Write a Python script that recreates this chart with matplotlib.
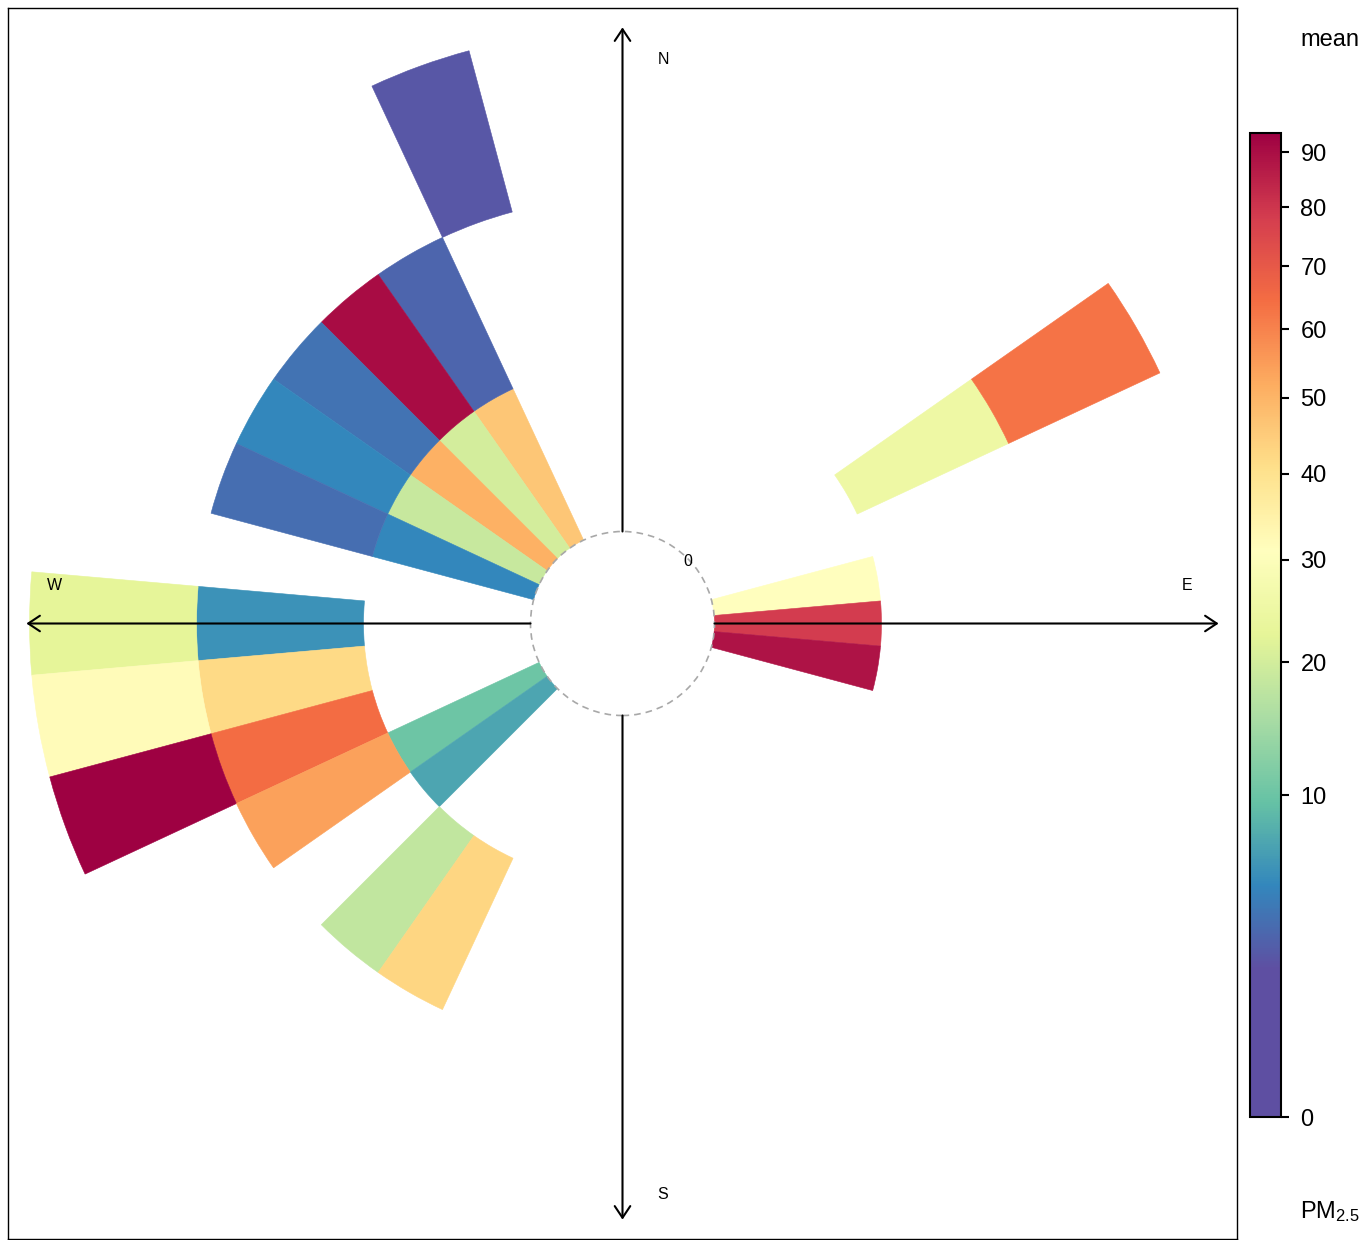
import numpy as np
import matplotlib
matplotlib.use("Agg")
import matplotlib.pyplot as plt
from matplotlib.patches import Wedge, Circle
from matplotlib.colors import LinearSegmentedColormap, PowerNorm
import matplotlib.colorbar as mcolorbar

plt.rcParams['font.family'] = ['Liberation Sans', 'DejaVu Sans']
plt.rcParams['mathtext.fontset'] = 'custom'
plt.rcParams['mathtext.rm'] = 'Liberation Sans'

# ---- data: wind direction bin (deg), wind-speed bin index, mean PM2.5 ----
direction = [340, 330, 330, 320, 320, 310, 310, 300, 300, 290, 290,
             270, 270, 260, 260, 250, 250, 240, 240, 230, 220, 210,
             60, 60, 80, 90, 100]
ws_bin = [3, 1, 2, 1, 2, 1, 2, 1, 2, 1, 2,
          2, 3, 2, 3, 2, 3, 1, 2, 1, 2, 2,
          2, 3, 1, 1, 1]
pm25_mean = [2.5, 46.2, 3.2, 20.2, 90.4, 50.8, 4.0, 18.7, 5.2, 5.2, 3.7,
             5.9, 22.5, 41.8, 31.9, 64.5, 93.4, 10.1, 54.3, 7.2, 18.0, 42.9,
             24.9, 63.2, 30.9, 78.4, 88.9]
cbar_ticks = [0, 10, 20, 30, 40, 50, 60, 70, 80, 90]
compass = {"N": (0.245, 3.38), "E": (3.38, 0.23), "S": (0.24, -3.42), "W": (-3.40, 0.23)}

dir_width = 10.0
ws_width = 1.0
offset = 0.551          # radius of the central hole (ws units)
vmax = 93.6

# colour map: Spectral_r, flat purple at the low end
base = plt.get_cmap('Spectral_r')
anchors = [(0.0, base(0.0))] + [(0.15 + 0.85 * k / 10, base(k / 10)) for k in range(11)]
cmap = LinearSegmentedColormap.from_list('pm', anchors, N=512)
norm = PowerNorm(gamma=0.5, vmin=0, vmax=vmax)

fig = plt.figure(figsize=(13.68, 12.4), dpi=100)
ax = fig.add_axes([8 / 1368, 1 / 1240, 1229 / 1368, 1231 / 1240])
ax.set_xlim(-3.68, 3.68)
ax.set_ylim(-3.686, 3.686)
ax.set_xticks([])
ax.set_yticks([])
for s in ax.spines.values():
    s.set_linewidth(1.0)
    s.set_color('black')

for d, b, v in zip(direction, ws_bin, pm25_mean):
    r_out = offset + b * ws_width
    th1 = 90 - (d + dir_width / 2)
    th2 = 90 - (d - dir_width / 2)
    c = cmap(norm(v))
    ax.add_patch(Wedge((0, 0), r_out, th1, th2, width=ws_width,
                       facecolor=c, edgecolor=c, linewidth=0.4, zorder=2))

ax.add_patch(Circle((0, 0), offset, fill=False, edgecolor='#A8A8A8',
                    linestyle=(0, (4, 3)), linewidth=1.2, zorder=3))
ax.text(0.39, 0.37, "0", fontsize=11.5, ha='center', va='center', zorder=4)

r_end = 3.57
for dx, dy in [(0, 1), (1, 0), (0, -1), (-1, 0)]:
    ax.annotate('', xy=(dx * r_end, dy * r_end), xytext=(dx * offset, dy * offset),
                arrowprops=dict(arrowstyle='->,head_length=0.6,head_width=0.4',
                                lw=1.5, color='black', mutation_scale=14,
                                shrinkA=0, shrinkB=0), zorder=4)
for lab, (x, y) in compass.items():
    ax.text(x, y, lab, fontsize=11.5, ha='center', va='center', zorder=4)

cax = fig.add_axes([1250 / 1368, (1240 - 1117) / 1240, 31 / 1368, 984 / 1240])
cb = mcolorbar.ColorbarBase(cax, cmap=cmap, norm=norm, orientation='vertical')
cb.set_ticks(cbar_ticks)
cb.set_ticklabels([str(t) for t in cbar_ticks])
cb.outline.set_linewidth(1.5)
cax.tick_params(axis='y', length=6, width=1.5, labelsize=17, pad=8)

fig.text(1300 / 1368, 1 - 40 / 1240, "mean", fontsize=17, ha='left', va='center')
fig.text(1300 / 1368, 1 - 1212 / 1240, r"$\mathregular{PM_{2.5}}$", fontsize=17,
         ha='left', va='center')

fig.savefig("out.png", dpi=100)
